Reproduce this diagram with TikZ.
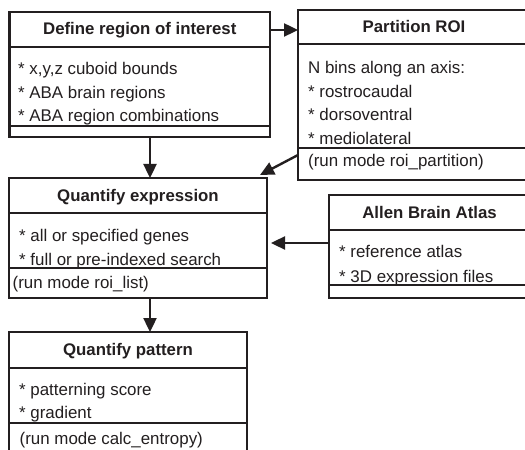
\documentclass[tikz,border=0pt]{standalone}
\usepackage{fontspec}
\setmainfont{Liberation Sans}
\usetikzlibrary{arrows.meta}
\definecolor{ink}{HTML}{231F20}
\begin{document}
\begin{tikzpicture}[x=1bp,y=-1bp,
  box/.style={draw=ink, line width=2.5bp, inner sep=0pt, outer sep=0pt, anchor=north west, rectangle},
  head/.style={font=\fontsize{16.8bp}{20bp}\selectfont\bfseries, text=ink, anchor=base, inner sep=0pt},
  body/.style={font=\fontsize{16.9bp}{20bp}\selectfont, text=ink, anchor=base west, inner sep=0pt},
  sepline/.style={draw=ink, line width=2.5bp},
  arr/.style={draw=ink, line width=2.4bp, -{Triangle[length=14bp,width=13bp]}}]
\useasboundingbox (0,0) rectangle (525,450);
\clip (0,0) rectangle (525,450);
\fill[white] (0,0) rectangle (525,450);

% Define region of interest
\node[box, minimum width=260.5bp, minimum height=125bp] (roi) at (9.5,12) {};
\draw[sepline] (roi.west |- 0,47) -- (roi.east |- 0,47);
\draw[sepline] (roi.west |- 0,126) -- (roi.east |- 0,126);
\node[head] (roiT) at (139.75,35) {Define region of interest};
\node[body] (roi1) at (18,75) {* x,y,z cuboid bounds};
\node[body] (roi2) at (18,98.5) {* ABA brain regions};
\node[body] (roi3) at (18,122) {* ABA region combinations};

% Partition ROI
\node[box, minimum width=232bp, minimum height=170bp] (part) at (298,10) {};
\draw[sepline] (part.west |- 0,44) -- (part.east |- 0,44);
\draw[sepline] (part.west |- 0,148) -- (part.east |- 0,148);
\node[head] (partT) at (414,33) {Partition ROI};
\node[body] (part1) at (308,74) {N bins along an axis:};
\node[body] (part2) at (308,97.5) {* rostrocaudal};
\node[body] (part3) at (308,121) {* dorsoventral};
\node[body] (part4) at (308,145) {* mediolateral};
\node[body] (part5) at (308,167) {(run mode roi\_partition)};

% Quantify expression
\node[box, minimum width=258bp, minimum height=120bp] (qe) at (9,178) {};
\draw[sepline] (qe.west |- 0,213) -- (qe.east |- 0,213);
\draw[sepline] (qe.west |- 0,268) -- (qe.east |- 0,268);
\node[head] (qeT) at (138,201.5) {Quantify expression};
\node[body] (qe1) at (19,242) {* all or specified genes};
\node[body] (qe2) at (19,265) {* full or pre-indexed search};
\node[body] (qe3) at (12.5,288) {(run mode roi\_list)};

% Allen Brain Atlas
\node[box, minimum width=201bp, minimum height=103bp] (aba) at (329,195) {};
\draw[sepline] (aba.west |- 0,230) -- (aba.east |- 0,230);
\draw[sepline] (aba.west |- 0,285) -- (aba.east |- 0,285);
\node[head] (abaT) at (429.5,219) {Allen Brain Atlas};
\node[body] (aba1) at (339,258) {* reference atlas};
\node[body] (aba2) at (339,282) {* 3D expression files};

% Quantify pattern
\node[box, minimum width=238bp, minimum height=140bp] (qp) at (9,332) {};
\draw[sepline] (qp.west |- 0,368) -- (qp.east |- 0,368);
\draw[sepline] (qp.west |- 0,423) -- (qp.east |- 0,423);
\node[head] (qpT) at (128,355) {Quantify pattern};
\node[body] (qp1) at (19,395) {* patterning score};
\node[body] (qp2) at (19,418) {* gradient};
\node[body] (qp3) at (19.5,444) {(run mode calc\_entropy)};

% connectors
\draw[arr] (roi.east |- 0,30) -- (part.west |- 0,30);
\draw[arr] (roi.south -| 150,0) -- (qe.north -| 150,0);
\draw[arr] (part.west |- 0,155) -- ([shift={(-7,-3)}]qe.north east);
\draw[arr, shorten >=4bp] (aba.west |- 0,243) -- (qe.east |- 0,243);
\draw[arr] (qe.south -| 150,0) -- (qp.north -| 150,0);
\end{tikzpicture}
\end{document}
